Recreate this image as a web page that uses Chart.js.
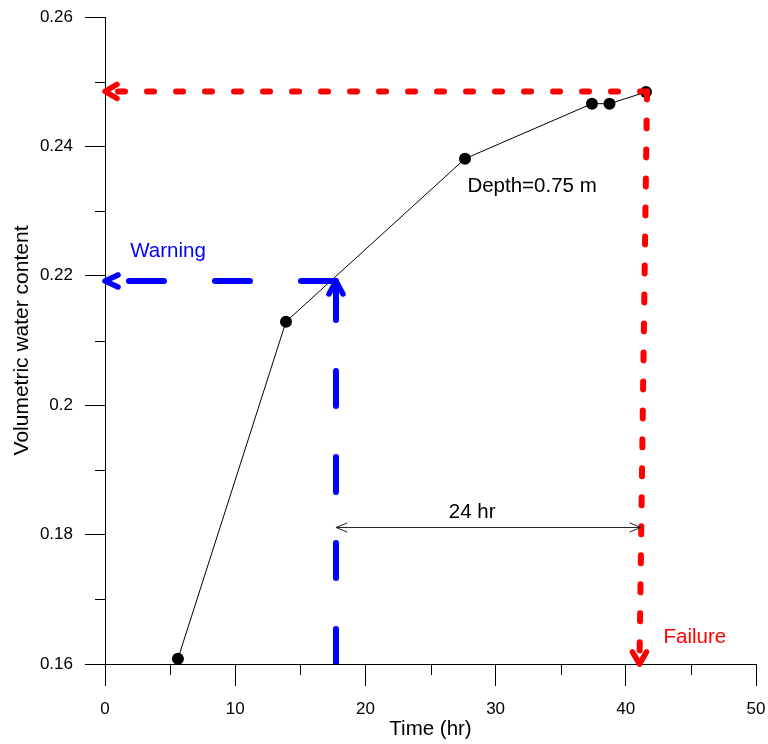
<!DOCTYPE html>
<html>
<head>
<meta charset="utf-8">
<script src="https://cdn.jsdelivr.net/npm/chart.js@4.4.0/dist/chart.umd.min.js"></script>
<style>
    html, body { margin: 0; padding: 0; background: #fff; }
    #wrap { width: 768px; height: 744px; }
</style>
</head>
<body>
<div id="wrap"><canvas id="waterChart" width="768" height="744"></canvas></div>
<script>
// Measured values (depth 0.75 m)
const timeHours = [5.6, 13.9, 27.65, 37.4, 38.75, 41.55];
const waterContent = [0.1608, 0.2129, 0.2381, 0.2466, 0.2466, 0.2484];

// Axis ticks
const xTicks = [0, 10, 20, 30, 40, 50];
const xMinorTicks = [5, 15, 25, 35, 45];
const yTicks = [0.16, 0.18, 0.2, 0.22, 0.24, 0.26];
const yMinorTicks = [0.17, 0.19, 0.21, 0.23, 0.25];

// Warning and failure markers (data units)
const warningTime = 17.74;
const warningLevel = 0.2192;
const failureTimeTop = 41.63;
const failureTimeBottom = 41.05;
const failureLevel = 0.2485;
const spanLevel = 0.1811;
const spanEnd = 41.15;

const RED = '#ff0000';
const BLUE = '#0000ff';
const FONT = "'Liberation Sans', Arial, sans-serif";

// Text labels: [text, x, y, colour]
const labels = [
    ['Warning', 4.84, 0.2238, BLUE],
    ['Failure', 45.3, 0.1641, RED],
    ['Depth=0.75 m', 32.8, 0.2339, '#000'],
    ['24 hr', 28.2, 0.1835, '#000']
];

function chevron(ctx, tx, ty, angle, len, spread, width, color) {
    ctx.save();
    ctx.strokeStyle = color;
    ctx.lineWidth = width;
    ctx.lineCap = 'round';
    ctx.lineJoin = 'round';
    ctx.beginPath();
    const bx = Math.cos(angle), by = Math.sin(angle);
    const px = -by, py = bx;
    ctx.moveTo(tx + bx * len + px * spread, ty + by * len + py * spread);
    ctx.lineTo(tx, ty);
    ctx.lineTo(tx + bx * len - px * spread, ty + by * len - py * spread);
    ctx.stroke();
    ctx.restore();
}

const extrasPlugin = {
    id: 'extras',
    afterDraw(chart) {
        const ctx = chart.ctx;
        const xs = chart.scales.x;
        const ys = chart.scales.y;
        const area = chart.chartArea;

        // minor ticks
        ctx.save();
        ctx.strokeStyle = '#000';
        ctx.lineWidth = 1;
        ctx.beginPath();
        xMinorTicks.forEach(v => {
            const px = Math.round(xs.getPixelForValue(v)) + 0.5;
            ctx.moveTo(px, area.bottom);
            ctx.lineTo(px, area.bottom + 11);
        });
        yMinorTicks.forEach(v => {
            const py = Math.round(ys.getPixelForValue(v)) + 0.5;
            ctx.moveTo(area.left - 10, py);
            ctx.lineTo(area.left, py);
        });
        ctx.stroke();
        ctx.restore();

        // arrow heads
        const x0 = xs.getPixelForValue(0);
        const yBottom = ys.getPixelForValue(0.16);
        chevron(ctx, x0, ys.getPixelForValue(failureLevel), 0, 12, 7, 5.5, RED);
        chevron(ctx, xs.getPixelForValue(failureTimeBottom), yBottom, -Math.PI / 2, 12, 7, 5.5, RED);
        chevron(ctx, x0, ys.getPixelForValue(warningLevel), 0, 13, 6, 5.5, BLUE);
        chevron(ctx, xs.getPixelForValue(warningTime), ys.getPixelForValue(warningLevel), Math.PI / 2, 13, 7, 5.5, BLUE);

        // 24 hr span arrow
        const sy = ys.getPixelForValue(spanLevel);
        const sx1 = xs.getPixelForValue(warningTime);
        const sx2 = xs.getPixelForValue(spanEnd);
        ctx.save();
        ctx.strokeStyle = '#222';
        ctx.lineWidth = 1;
        ctx.beginPath();
        ctx.moveTo(sx1, sy);
        ctx.lineTo(sx2, sy);
        ctx.stroke();
        ctx.restore();
        chevron(ctx, sx1, sy, 0, 11, 4.5, 1, '#222');
        chevron(ctx, sx2, sy, Math.PI, 11, 4.5, 1, '#222');

        // text labels
        ctx.save();
        ctx.font = '20.5px ' + FONT;
        ctx.textAlign = 'center';
        ctx.textBaseline = 'middle';
        labels.forEach(l => {
            ctx.fillStyle = l[3];
            ctx.fillText(l[0], xs.getPixelForValue(l[1]), ys.getPixelForValue(l[2]));
        });
        ctx.restore();
    }
};

const ctx = document.getElementById('waterChart').getContext('2d');
const waterChart = new Chart(ctx, {
    type: 'scatter',
    data: {
        datasets: [
            {
                label: 'Depth=0.75 m',
                data: timeHours.map((t, i) => ({ x: t, y: waterContent[i] })),
                showLine: true,
                borderColor: '#000',
                borderWidth: 1,
                backgroundColor: '#000',
                pointBackgroundColor: '#000',
                pointBorderWidth: 0,
                pointRadius: 6,
                order: 2
            },
            {
                // failure level, horizontal
                data: [{ x: failureTimeTop, y: failureLevel }, { x: 0, y: failureLevel }],
                showLine: true,
                borderColor: RED,
                borderWidth: 6,
                borderDash: [7, 22],
                borderCapStyle: 'round',
                pointRadius: 0,
                order: 1
            },
            {
                // failure time, vertical
                data: [{ x: failureTimeTop, y: failureLevel }, { x: failureTimeBottom, y: 0.16 }],
                showLine: true,
                borderColor: RED,
                borderWidth: 6,
                borderDash: [8, 21],
                borderCapStyle: 'round',
                pointRadius: 0,
                order: 1
            },
            {
                // warning level, horizontal
                data: [{ x: warningTime, y: warningLevel }, { x: 0, y: warningLevel }],
                showLine: true,
                borderColor: BLUE,
                borderWidth: 6,
                borderDash: [35, 51],
                borderCapStyle: 'round',
                pointRadius: 0,
                order: 1
            },
            {
                // warning time, vertical
                data: [{ x: warningTime, y: 0.16 }, { x: warningTime, y: warningLevel }],
                showLine: true,
                borderColor: BLUE,
                borderWidth: 6,
                borderDash: [35, 51],
                borderCapStyle: 'round',
                pointRadius: 0,
                order: 1
            }
        ]
    },
    options: {
        responsive: false,
        animation: false,
        devicePixelRatio: 1,
        layout: {
            padding: { top: 17, right: 12, left: 0, bottom: 0 }
        },
        scales: {
            x: {
                type: 'linear',
                min: 0,
                max: 50,
                afterBuildTicks: scale => { scale.ticks = xTicks.map(v => ({ value: v })); },
                afterFit: scale => {
                    scale.height = 80;
                    scale.paddingLeft = 0;
                    scale.paddingRight = 0;
                },
                grid: { drawOnChartArea: false, tickLength: 22, color: '#000' },
                border: { color: '#000', width: 1 },
                ticks: { color: '#000', padding: 13, font: { family: FONT, size: 17 }, maxRotation: 0 },
                title: { display: true, text: 'Time (hr)', color: '#000', font: { family: FONT, size: 20.5 }, padding: { top: 0, bottom: 2 } }
            },
            y: {
                type: 'linear',
                min: 0.16,
                max: 0.26,
                afterBuildTicks: scale => { scale.ticks = yTicks.map(v => ({ value: v })); },
                afterFit: scale => {
                    scale.width = 105;
                    scale.paddingTop = 0;
                    scale.paddingBottom = 0;
                },
                grid: { drawOnChartArea: false, tickLength: 20, color: '#000' },
                border: { color: '#000', width: 1 },
                ticks: {
                    color: '#000',
                    padding: 12,
                    font: { family: FONT, size: 17 },
                    callback: v => String(Number(v.toFixed(2)))
                },
                title: { display: true, text: 'Volumetric water content', color: '#000', font: { family: FONT, size: 21 }, padding: { top: 10, bottom: 0 } }
            }
        },
        plugins: {
            legend: { display: false },
            tooltip: { enabled: false }
        }
    },
    plugins: [extrasPlugin]
});
</script>
</body>
</html>
